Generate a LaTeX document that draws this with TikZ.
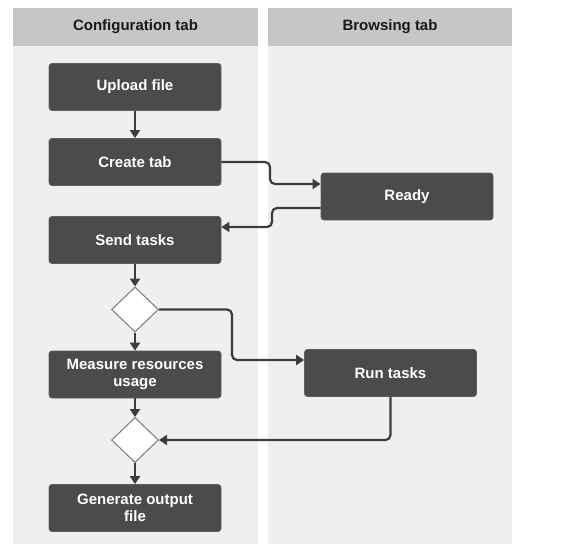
\documentclass[tikz,border=0pt]{standalone}
\usepackage{fontspec}
\setmainfont{Liberation Sans}
\usetikzlibrary{arrows.meta,shapes.geometric,calc}
\definecolor{lanebg}{HTML}{EFEFEF}
\definecolor{headbg}{HTML}{C6C6C6}
\definecolor{boxbg}{HTML}{4B4B4B}
\definecolor{boxedge}{HTML}{5E5E5E}
\definecolor{linec}{HTML}{3C3C3C}
\definecolor{diaedge}{HTML}{7A7A7A}
\tikzset{
  stepbox/.style={fill=boxbg, draw=boxedge, line width=0.8pt, rounded corners=3pt,
    minimum width=172pt, minimum height=47pt, text=white, align=center,
    font=\bfseries\fontsize{15}{17}\selectfont, inner sep=2pt},
  decision/.style={diamond, fill=white, draw=diaedge, line width=1pt,
    minimum width=47pt, minimum height=45pt, inner sep=0pt},
  conn/.style={draw=linec, line width=2.2pt, rounded corners=5pt,
    -{Triangle[length=8pt,width=10pt]}},
  headtxt/.style={font=\bfseries\fontsize{15}{17}\selectfont, text=black!90}
}
\begin{document}
\begin{tikzpicture}[x=1pt,y=-1pt]
\useasboundingbox (0,0) rectangle (569,544);
% lanes
\fill[lanebg] (13,46) rectangle (258,544);
\fill[lanebg] (268,46) rectangle (512,544);
\fill[headbg] (13,8) rectangle (258,46);
\fill[headbg] (268,8) rectangle (512,46);
\node[headtxt] (h1) at (135.5,27) {Configuration tab};
\node[headtxt] (h2) at (390,27) {Browsing tab};
% nodes
\node[stepbox] (upload) at (135,87) {Upload file};
\node[stepbox] (create) at (135,162) {Create tab};
\node[stepbox] (ready) at (407,196.5) {Ready};
\node[stepbox] (send) at (135,240) {Send tasks};
\node[decision] (d1) at (135,309.5) {};
\node[stepbox] (measure) at (135,374.5) {Measure resources\\usage};
\node[stepbox] (run) at (390.5,373) {Run tasks};
\node[decision] (d2) at (135,440) {};
\node[stepbox] (gen) at (135,508) {Generate output\\file};
% connectors
\draw[conn] (upload) -- (create);
\draw[conn] (create.east) -- (270,162) |- ($(ready.west)+(0,-12.5)$);
\draw[conn] ($(ready.west)+(0,11.5)$) -- (272,208) |- ($(send.east)+(0,-13)$);
\draw[conn] (send) -- (d1);
\draw[conn] (d1.east) -- (232,309.5) |- ($(run.west)+(0,-13)$);
\draw[conn] (d1) -- (measure);
\draw[conn] (measure) -- (d2);
\draw[conn] (run.south) |- (d2.east);
\draw[conn] (d2) -- (gen);
\end{tikzpicture}
\end{document}
